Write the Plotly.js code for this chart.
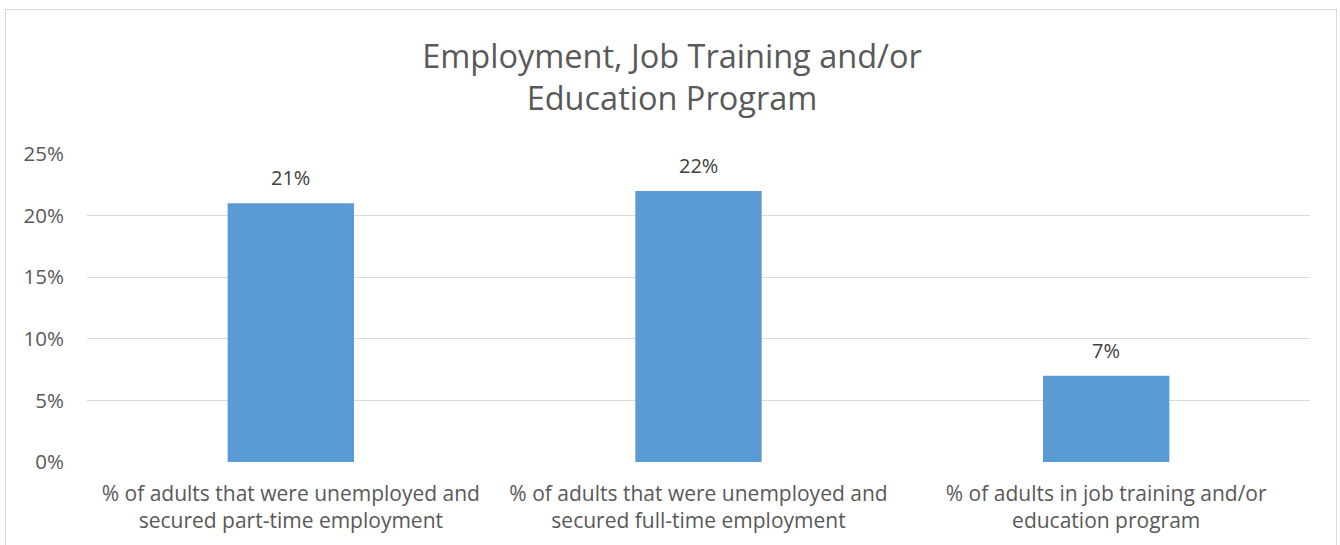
<!DOCTYPE html>
<html>
<head>
<meta charset="utf-8">
<script src="https://cdn.plot.ly/plotly-3.0.1.min.js"></script>
<style>
  html, body { margin: 0; padding: 0; background: #ffffff; }
  #wrap { position: relative; width: 1340px; height: 545px; overflow: hidden; }
  #frame { position: absolute; left: 5px; top: 9px; width: 1332px; height: 600px;
           border: 1px solid #d9d9d9; box-sizing: border-box; pointer-events: none; }
  #chart { position: absolute; left: 0; top: 0; width: 1340px; height: 545px; }
</style>
</head>
<body>
<div id="wrap">
  <div id="chart"></div>
  <div id="frame"></div>
</div>
<script>
const categories = ["part", "full", "training"];
const categoryLabels = [
  "% of adults that were unemployed and<br>secured part-time employment",
  "% of adults that were unemployed and<br>secured full-time employment",
  "% of adults in job training and/or<br>education program"
];
const values = [0.21, 0.22, 0.07];
const valueLabels = ["21%", "22%", "7%"];
const yTicks = [0, 0.05, 0.10, 0.15, 0.20, 0.25];
const yTickLabels = ["0%", "5%", "10%", "15%", "20%", "25%"];

const FONT = "'Open Sans', 'Noto Sans', 'Liberation Sans', sans-serif";

const trace = {
  type: "bar",
  x: categories,
  y: values,
  marker: { color: "#5b9bd5" },
  hoverinfo: "none"
};

const annotations = categories.map((c, i) => ({
  x: c, y: values[i], xref: "x", yref: "y",
  text: valueLabels[i], showarrow: false,
  yanchor: "bottom", yshift: 10,
  font: { family: FONT, size: 20, color: "#404040" }
}));

const layout = {
  width: 1340, height: 545,
  margin: { l: 87, r: 30, t: 154, b: 83 },
  paper_bgcolor: "rgba(0,0,0,0)",
  plot_bgcolor: "#ffffff",
  showlegend: false,
  bargap: 0.69,
  title: {
    text: "Employment, Job Training and/or<br>Education Program",
    font: { family: FONT, size: 32.5, color: "#595959" },
    xref: "container", x: 0.5015, xanchor: "center",
    yref: "container", y: 1 - 68 / 545, yanchor: "middle"
  },
  xaxis: {
    type: "category",
    tickvals: categories,
    ticktext: categoryLabels,
    showgrid: false,
    showline: false,
    zeroline: false,
    ticks: "",
    ticklabelstandoff: 17,
    tickfont: { family: FONT, size: 21, color: "#595959" }
  },
  yaxis: {
    range: [0, 0.25],
    tickvals: yTicks,
    ticktext: yTickLabels,
    showgrid: true,
    gridcolor: "#d9d9d9",
    gridwidth: 1,
    zeroline: false,
    showline: false,
    ticks: "",
    ticklabelstandoff: 22,
    tickfont: { family: FONT, size: 20.5, color: "#595959" }
  },
  annotations: annotations
};

Plotly.newPlot("chart", [trace], layout, { displayModeBar: false, staticPlot: true });
</script>
</body>
</html>
